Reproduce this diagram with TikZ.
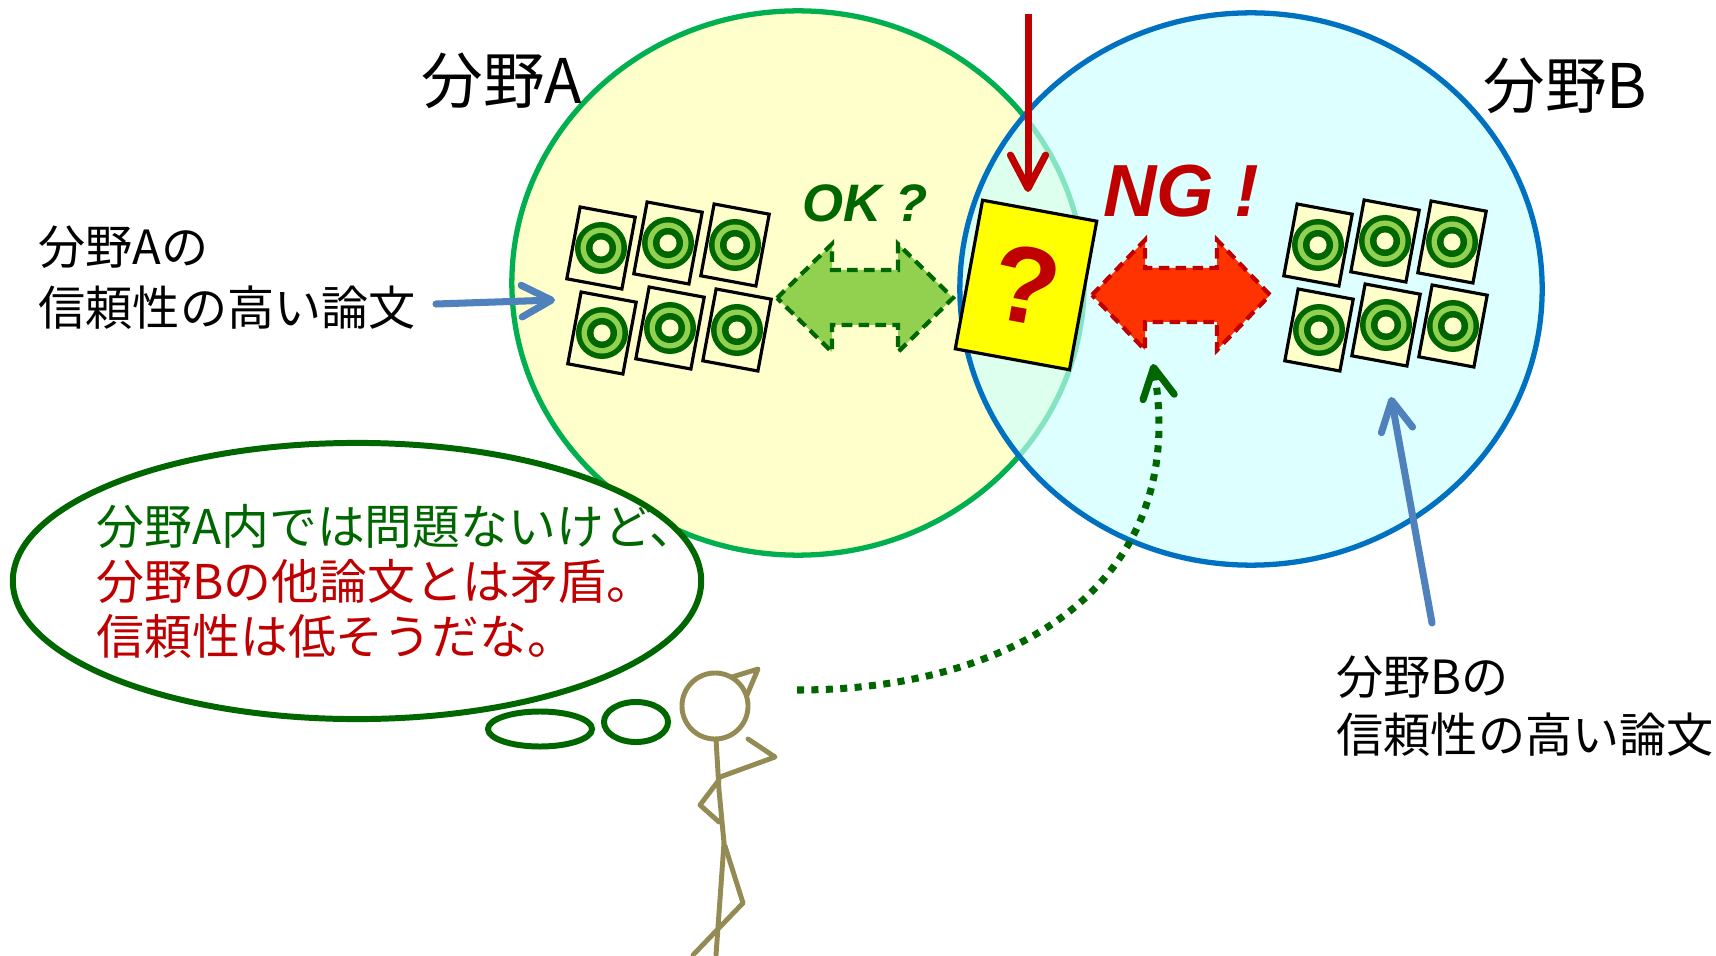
\documentclass[tikz,border=0pt]{standalone}
\usepackage{fontspec}
\usetikzlibrary{arrows.meta,calc}
\newfontfamily\jpfont{Noto Sans CJK JP}
\newfontfamily\markerfont{Liberation Sans}

\definecolor{fillA}{HTML}{FFFFCC}
\definecolor{lineA}{HTML}{00B050}
\definecolor{fillB}{HTML}{CCFFFF}
\definecolor{lineB}{HTML}{0070C0}
\definecolor{dkgreen}{HTML}{006600}
\definecolor{ltgreen}{HTML}{92D050}
\definecolor{dkred}{HTML}{C00000}
\definecolor{ngred}{HTML}{FF3300}
\definecolor{steel}{HTML}{4F81BD}
\definecolor{stickcol}{HTML}{948A54}
\definecolor{cardfill}{HTML}{FFFFCC}
\definecolor{qyellow}{HTML}{FFFF00}

% one paper icon: a tilted card with a bull's-eye
\newcommand\paperdoc[3]{%
  \node[doccard] (#1) at (#2,#3) {};
  \fill[dkgreen] (#1.center) circle[radius=0.26cm];
  \fill[ltgreen] (#1.center) circle[radius=0.205cm];
  \fill[dkgreen] (#1.center) circle[radius=0.15cm];
  \fill[cardfill] (#1.center) circle[radius=0.085cm];
}

\begin{document}
\begin{tikzpicture}[x=0.01cm,y=-0.01cm,
  doccard/.style={draw=black, line width=0.9pt, fill=cardfill, minimum width=0.56cm,
    minimum height=0.73cm, inner sep=0pt, rotate=-10.5},
  qbox/.style={draw=black, line width=0.9pt, fill=qyellow, minimum width=1.16cm,
    minimum height=1.51cm, inner sep=0pt, rotate=-10.4, text=dkred,
    font=\markerfont\bfseries\fontsize{31pt}{31pt}\selectfont},
  okarrow/.style={fill=ltgreen, draw=dkgreen, line width=1.2pt, dash pattern=on 3pt off 1.8pt},
  ngarrow/.style={fill=ngred, draw=dkred, line width=1.2pt, dash pattern=on 3pt off 1.8pt},
  bluearrow/.style={draw=steel, line width=2pt, line cap=round,
    -{Straight Barb[length=8.5pt,width=9pt,round]}},
  redarrow/.style={draw=dkred, line width=2pt,
    -{Straight Barb[length=9.5pt,width=10pt,round]}},
  dotarrow/.style={draw=dkgreen, line width=2pt, dash pattern=on 2pt off 2.1pt,
    -{Straight Barb[length=8.5pt,width=9pt,round]}},
  stick/.style={draw=stickcol, line width=1.4pt, line cap=round, line join=round},
  thought/.style={draw=dkgreen, line width=1.7pt, fill=white},
  lbl/.style={inner sep=0pt, anchor=base west, font=\jpfont\fontsize{13.4pt}{16pt}\selectfont},
  title/.style={inner sep=0pt, anchor=base west, font=\jpfont\fontsize{17.5pt}{20pt}\selectfont},
  talk/.style={inner sep=0pt, anchor=base west, font=\jpfont\fontsize{13.6pt}{16pt}\selectfont},
  bigmark/.style={inner sep=0pt, anchor=base, font=\markerfont\bfseries\itshape}
]
\fill[white] (0,0) rectangle (1716,955);
\useasboundingbox (0,0) rectangle (1716,955);

% the two fields
\draw[lineA, line width=1.5pt, fill=fillA] (798,283) ellipse [x radius=2.86cm, y radius=2.72cm];
\draw[lineB, line width=1.5pt, fill=fillB, fill opacity=0.65] (1251,289) ellipse [x radius=2.91cm, y radius=2.76cm];

\node[title] (titleA) at (421,104) {分野A};
\node[title] (titleB) at (1483,109) {分野B};

% papers of field A
\paperdoc{pa1}{601}{248}
\paperdoc{pa2}{668}{243}
\paperdoc{pa3}{735}{245}
\paperdoc{pa4}{602}{333}
\paperdoc{pa5}{670}{328}
\paperdoc{pa6}{737}{330}

% papers of field B
\paperdoc{pb1}{1318}{245}
\paperdoc{pb2}{1385}{241}
\paperdoc{pb3}{1452}{242}
\paperdoc{pb4}{1319}{330}
\paperdoc{pb5}{1386}{325}
\paperdoc{pb6}{1453}{326}

% the questionable paper
\node[qbox] (qcard) at (1026,285) {?};

% consistency arrows
\draw[okarrow] (777,298) -- (832,244) -- (832,270) -- (898,270) -- (898,244) -- (953,298)
  -- (898,352) -- (898,325) -- (832,325) -- (832,352) -- cycle;
\draw[ngarrow] (1092,295) -- (1145,240) -- (1145,268) -- (1217,268) -- (1217,240) -- (1270,295)
  -- (1217,350) -- (1217,322) -- (1145,322) -- (1145,350) -- cycle;
\node[bigmark, text=dkgreen, font=\markerfont\bfseries\itshape\fontsize{15pt}{15pt}\selectfont] (ok) at (865,222) {OK ?};
\node[bigmark, text=dkred, font=\markerfont\bfseries\itshape\fontsize{21pt}{21pt}\selectfont] (ng) at (1181,217) {NG !};

% pointer to the questionable paper
\coordinate (redtop) at (1028,14);
\coordinate (redtip) at (1028,192);
\draw[redarrow] (redtop) -- (redtip);

% labels with pointers
\node[lbl] (lblA1) at (38,265) {分野Aの};
\node[lbl] (lblA2) at (38,325) {信頼性の高い論文};
\node[lbl] (lblB1) at (1336,694) {分野Bの};
\node[lbl] (lblB2) at (1336,752) {信頼性の高い論文};
\coordinate (tailA) at (436,304);
\coordinate (tipA) at (555,300);
\coordinate (tailB) at (1432,623);
\coordinate (tipB) at (1391,397);
\draw[bluearrow] (tailA) -- (tipA);
\draw[bluearrow] (tailB) -- (tipB);

% thought bubble
\draw[thought] (357,581) ellipse [x radius=3.44cm, y radius=1.38cm];
\draw[thought] (540,729) ellipse [x radius=0.52cm, y radius=0.175cm];
\draw[thought] (636,722) ellipse [x radius=0.32cm, y radius=0.2cm];
\node[talk, text=dkgreen] (t1) at (96,544) {分野A内では問題ないけど、};
\node[talk, text=dkred] (t2) at (96,599) {分野Bの他論文とは矛盾。};
\node[talk, text=dkred] (t3) at (96,654) {信頼性は低そうだな。};

% the reader
\draw[stick] (715,706) circle[radius=0.33cm];
\draw[stick] (732,677) -- (758,669) -- (747,695);
\draw[stick] (716,739) -- (719,790) -- (724,843);
\draw[stick] (724,843) -- (716,955);
\draw[stick] (725,846) -- (743,903) -- (693,955);
\draw[stick] (720,777) -- (775,757) -- (748,739);
\draw[stick] (719,780) -- (700,805) -- (719,822);

% the reader's glance
\coordinate (gazefrom) at (797,690);
\coordinate (gazeto) at (1153,364);
\draw[dotarrow] (gazefrom) .. controls (1020,690) and (1190,580) .. (gazeto);
\end{tikzpicture}
\end{document}
